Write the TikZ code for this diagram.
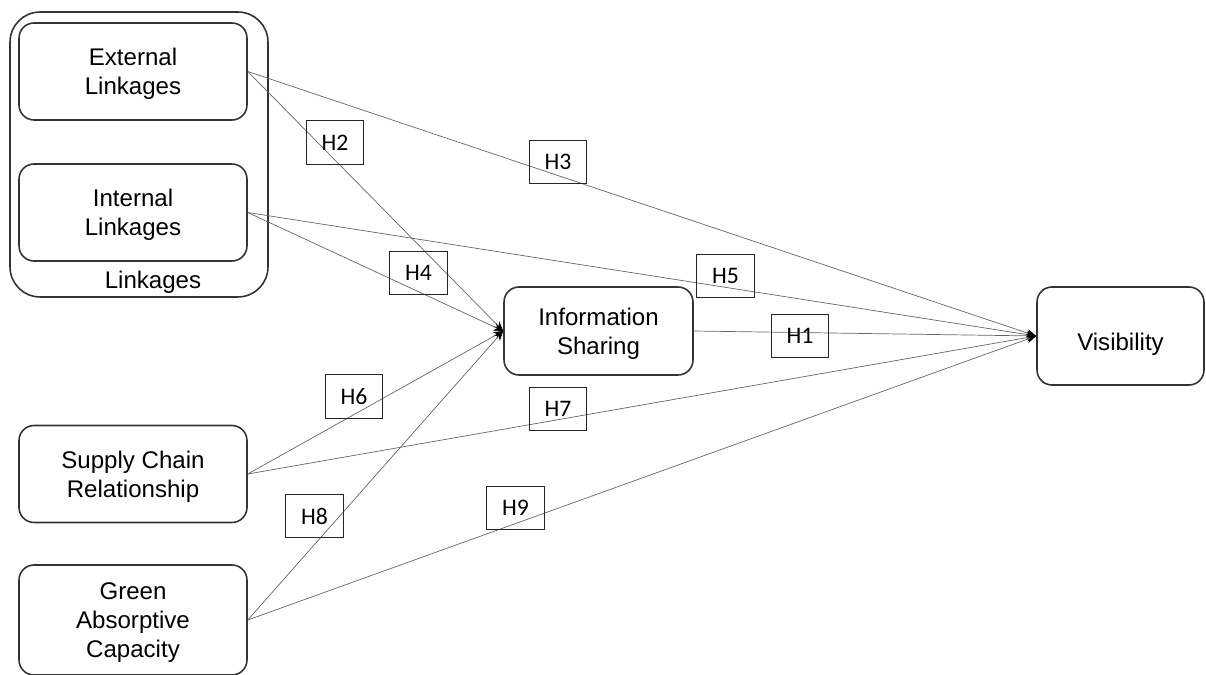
\documentclass[tikz,border=0pt]{standalone}
\usepackage{fontspec}
\setmainfont{Liberation Sans}
\newfontfamily\hfont{Carlito}
\usetikzlibrary{arrows.meta}

\begin{document}
\begin{tikzpicture}
    [x=0.02cm,y=-0.02cm,
     construct/.style={draw=black!80,line width=0.9pt,rounded corners=0.3cm,
       align=center,inner sep=0pt,text depth=-3.5pt,
       execute at begin node={\rule{0pt}{16pt}},
       minimum width=4.56cm,minimum height=1.94cm,
       font=\fontsize{13.7}{16.5}\selectfont},
     hyp/.style={draw=black!85,line width=0.8pt,inner sep=0pt,
       minimum width=1.15cm,minimum height=0.87cm,font=\hfont\fontsize{13.5}{16}\selectfont},
     path/.style={draw=black!60,line width=0.4pt,
       -{Stealth[length=5.5pt,width=4.5pt,color=black]}}]
  \useasboundingbox (0,0) rectangle (1206,675);
  % linkages group
  \node[draw=black!80,line width=0.9pt,rounded corners=0.6cm,inner sep=0pt,
    minimum width=5.16cm,minimum height=5.7cm] (group) at (139,154.5) {};
  \node[font=\fontsize{13.7}{16.5}\selectfont] (grouplbl) at (153,282) {Linkages};
  \node[construct] (ext) at (133,71.5) {External\\Linkages};
  \node[construct] (int) at (133,212.5) {Internal\\Linkages};
  \node[construct] (scr) at (133,474) {Supply Chain\\Relationship};
  \node[construct,minimum height=2.2cm] (gac) at (133,620) {Green\\Absorptive\\Capacity};
  \node[construct,minimum width=3.78cm,minimum height=1.76cm] (info) at (598.5,331) {Information\\Sharing};
  \node[construct,minimum width=3.34cm,minimum height=1.96cm] (vis) at (1120.5,336) {Visibility};
  % paths
  \draw[path] (ext.east) -- (info.west);
  \draw[path] (ext.east) -- (vis.west);
  \draw[path] (int.east) -- (info.west);
  \draw[path] (int.east) -- (vis.west);
  \draw[path] (info.east) -- (vis.west);
  \draw[path] (scr.east) -- (info.west);
  \draw[path] (scr.east) -- (vis.west);
  \draw[path] (gac.east) -- (info.west);
  \draw[path] (gac.east) -- (vis.west);
  % hypotheses
  \node[hyp] (h1) at (800,336) {H1};
  \node[hyp] (h2) at (335,142.5) {H2};
  \node[hyp] (h3) at (558,162) {H3};
  \node[hyp] (h4) at (418.5,273) {H4};
  \node[hyp] (h5) at (725.5,276) {H5};
  \node[hyp] (h6) at (354,396.5) {H6};
  \node[hyp] (h7) at (558,409) {H7};
  \node[hyp] (h8) at (314.5,516) {H8};
  \node[hyp] (h9) at (515.5,508) {H9};
\end{tikzpicture}
\end{document}
